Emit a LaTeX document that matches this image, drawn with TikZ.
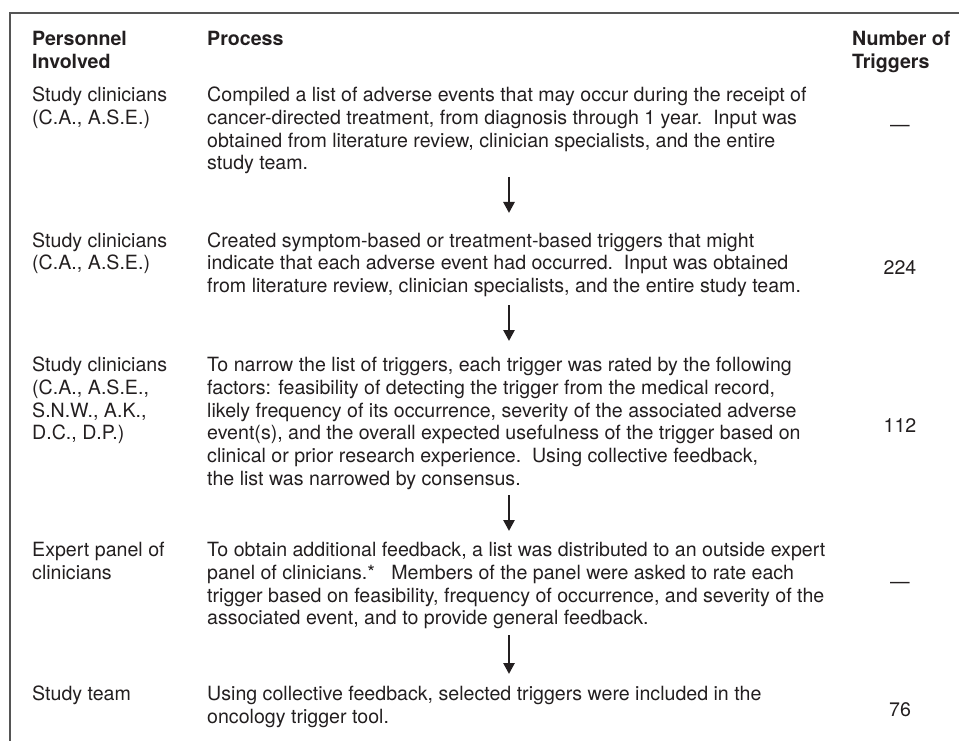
\documentclass[tikz,border=0pt]{standalone}
\usepackage{fontspec}
\setmainfont{TeX Gyre Heros}
\usetikzlibrary{arrows.meta}
\definecolor{inkgray}{HTML}{231F20}
\definecolor{rulegray}{HTML}{555555}

\begin{document}
\begin{tikzpicture}[x=1pt,y=-1pt,
    every node/.style={inner sep=0pt,anchor=base west,align=left,text=inkgray,
      font=\fontsize{19.6}{22.7}\selectfont},
    headtxt/.style={font=\fontsize{19.6}{22.7}\selectfont\bfseries},
    numtxt/.style={anchor=base},
    flowarrow/.style={-{Triangle[width=11pt,length=11pt]},line width=2.6pt,draw=inkgray}]
        \useasboundingbox (0,0) rectangle (959,741);
        \draw[rulegray,line width=1.6pt] (10,741) -- (10,13.3) -- (959,13.3);
        % column heads (nodes sit on the baseline of their last line)
        \node[headtxt] (headPers) at (32,68.7) {Personnel\\Involved};
        \node[headtxt] (headProc) at (207,46) {Process};
        \node[headtxt] (headNum) at (852,68.7) {Number of\\Triggers};
        % personnel
        \node (pers1) at (32,124.4) {Study clinicians\\(C.A., A.S.E.)};
        \node (pers2) at (32,269.7) {Study clinicians\\(C.A., A.S.E.)};
        \node (pers3) at (32,439.8) {Study clinicians\\(C.A., A.S.E.,\\S.N.W., A.K.,\\D.C., D.P.)};
        \node (pers4) at (32,579.4) {Expert panel of\\clinicians};
        \node (pers5) at (32,700.7) {Study team};
        % process steps
        \node (proc1) at (207,169.8) {Compiled a list of adverse events that may occur during the receipt of\\cancer-directed treatment, from diagnosis through 1 year.\ \ Input was\\obtained from literature review, clinician specialists, and the entire\\study team.};
        \node (proc2) at (207,292.4) {Created symptom-based or treatment-based triggers that might\\indicate that each adverse event had occurred.\ \ Input was obtained\\from literature review, clinician specialists, and the entire study team.};
        \node (proc3) at (207,485.2) {To narrow the list of triggers, each trigger was rated by the following\\factors: feasibility of detecting the trigger from the medical record,\\likely frequency of its occurrence, severity of the associated adverse\\event(s), and the overall expected usefulness of the trigger based on\\clinical or prior research experience.\ \ Using collective feedback,\\the list was narrowed by consensus.};
        \node (proc4) at (207,624.8) {To obtain additional feedback, a list was distributed to an outside expert\\panel of clinicians.*\ \ \ Members of the panel were asked to rate each\\trigger based on feasibility, frequency of occurrence, and severity of the\\associated event, and to provide general feedback.};
        \node (proc5) at (207,723.4) {Using collective feedback, selected triggers were included in the\\oncology trigger tool.};
        % trigger counts
        \foreach \n/\y/\t in {1/132/---, 2/274/224, 3/432/112, 4/588/---, 5/716/76}{
        \node[numtxt] (num\n) at (900,\y) {\t};}
        % arrows between steps
        \foreach \n/\ya/\yb in {1/177/213, 2/305/341, 3/495/531, 4/635/674}{
        \coordinate (top\n) at (509,\ya);
        \coordinate (tip\n) at (509,\yb);
        \draw[flowarrow] (top\n) -- (tip\n);}
    \end{tikzpicture}
\end{document}
